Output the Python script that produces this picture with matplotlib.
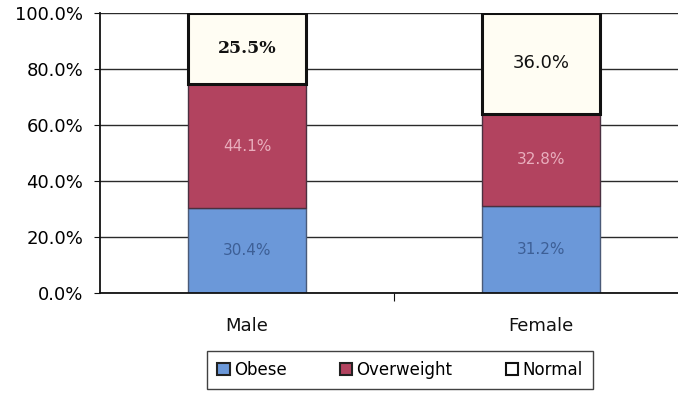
import matplotlib
matplotlib.use("Agg")
import matplotlib.pyplot as plt
from matplotlib.patches import Patch

categories = ["Male", "Female"]
obese = [30.4, 31.2]
overweight = [44.1, 32.8]
normal = [25.5, 36.0]
yticks = [0, 20, 40, 60, 80, 100]

plt.rcParams['font.family'] = ['DejaVu Sans']

fig = plt.figure(figsize=(6.78, 3.96), dpi=100)
ax = fig.add_axes([100/678, 103/396, 588/678, 280/396])

xpos = list(range(len(categories)))
w = 0.40
c_ob = "#6b98d9"
c_ow = "#b2435f"
c_no = "#fffdf3"

ax.set_axisbelow(True)
ax.yaxis.grid(True, color="#2a2a2a", linewidth=1.0)
ax.bar(xpos, obese, w, color=c_ob, edgecolor="#4a5a78", linewidth=1.0)
ax.bar(xpos, overweight, w, bottom=obese, color=c_ow, edgecolor="#4a3040", linewidth=1.0)
bot2 = [a + b for a, b in zip(obese, overweight)]
ax.bar(xpos, normal, w, bottom=bot2, color=c_no, edgecolor="#111111", linewidth=2.2)

for i, x in enumerate(xpos):
    ax.text(x, obese[i] / 2, f"{obese[i]:.1f}%", ha="center", va="center",
            fontsize=11, color="#3d5f96")
    ax.text(x, obese[i] + overweight[i] / 2, f"{overweight[i]:.1f}%", ha="center", va="center",
            fontsize=11, color="#e9aebd")
    if i == 0:
        ax.text(x, bot2[i] + normal[i] / 2, f"{normal[i]:.1f}%", ha="center", va="center",
                fontsize=12.5, color="#111111", fontweight="bold", family="DejaVu Serif")
    else:
        ax.text(x, bot2[i] + normal[i] / 2, f"{normal[i]:.1f}%", ha="center", va="center",
                fontsize=13, color="#111111")

ax.set_xlim(-0.5, 1.5)
ax.set_ylim(0, 100)
ax.set_yticks(yticks)
ax.set_yticklabels([f"{v:.1f}%" for v in yticks], fontsize=13, color="#000000")
ax.set_xticks([0.5])
ax.set_xticklabels([""])
ax.tick_params(axis="x", length=6, direction="out", color="#111111")
ax.tick_params(axis="y", length=4, direction="out", color="#111111", pad=8)
for i, c in enumerate(categories):
    ax.text(i, -8.5, c, ha="center", va="top", fontsize=13, color="#111111",
            transform=ax.transData)

for s in ["top", "right"]:
    ax.spines[s].set_visible(False)
ax.spines["left"].set_color("#111111")
ax.spines["bottom"].set_color("#111111")
ax.spines["left"].set_linewidth(1.3)
ax.spines["bottom"].set_linewidth(1.3)

handles = [Patch(facecolor=c_ob, edgecolor="#222222", linewidth=1.5, label="Obese"),
           Patch(facecolor=c_ow, edgecolor="#222222", linewidth=1.5, label="Overweight"),
           Patch(facecolor="white", edgecolor="#111111", linewidth=1.5, label="Normal")]
leg = fig.legend(handles=handles, loc="center", bbox_to_anchor=(400/678, 1 - 370/396),
                 ncol=3, frameon=True, fancybox=False, fontsize=12, handlelength=0.75,
                 handleheight=0.75, handletextpad=0.25, columnspacing=3.2, borderpad=0.6)
leg.get_frame().set_edgecolor("#111111")
leg.get_frame().set_linewidth(1.0)

fig.savefig("out.png", dpi=100)
